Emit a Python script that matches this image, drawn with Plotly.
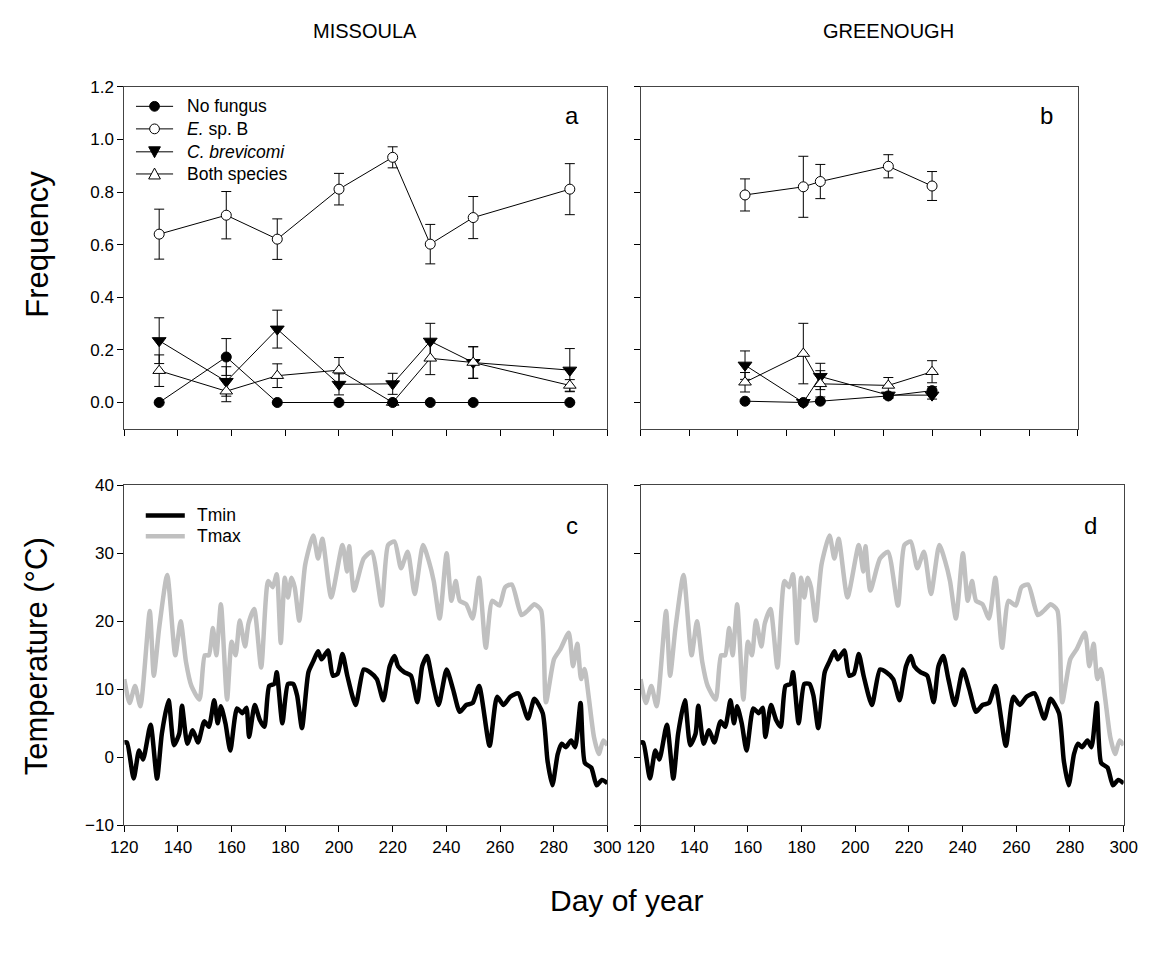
import plotly.graph_objects as go

# ---------------- data ----------------
# Missoula (panel a)
mis_days = [133, 158, 177, 200, 220, 234, 250, 286]
mis_nofungus = [0.0, 0.173, 0.0, 0.0, 0.0, 0.0, 0.0, 0.0]
mis_nofungus_err = [0.0, 0.07, 0.0, 0.0, 0.0, 0.0, 0.0, 0.0]
mis_esp = [0.640, 0.712, 0.621, 0.811, 0.932, 0.602, 0.703, 0.811]
mis_esp_err = [0.095, 0.090, 0.077, 0.060, 0.040, 0.075, 0.080, 0.097]
mis_cbrev = [0.235, 0.080, 0.279, 0.069, 0.071, 0.233, 0.152, 0.123]
mis_cbrev_err = [0.087, 0.056, 0.072, 0.040, 0.040, 0.068, 0.060, 0.082]
mis_both = [0.121, 0.043, 0.102, 0.123, 0.0, 0.168, 0.152, 0.065]
mis_both_err = [0.060, 0.040, 0.045, 0.048, 0.0, 0.062, 0.060, 0.022]

# Greenough (panel b)
gre_days = [163, 187, 194, 222, 240]
gre_nofungus = [0.005, 0.0, 0.005, 0.025, 0.045]
gre_nofungus_err = [0.0, 0.0, 0.0, 0.01, 0.015]
gre_esp = [0.789, 0.820, 0.840, 0.898, 0.823]
gre_esp_err = [0.061, 0.116, 0.065, 0.044, 0.055]
gre_cbrev = [0.142, 0.0, 0.099, 0.028, 0.028]
gre_cbrev_err = [0.054, 0.0, 0.050, 0.010, 0.015]
gre_both = [0.077, 0.186, 0.071, 0.065, 0.117]
gre_both_err = [0.037, 0.115, 0.050, 0.030, 0.042]

# Temperature (panels c and d) - readings at turning points
tmax_days = [120, 122, 124, 126, 129.5, 131, 133, 136, 139, 141, 143, 145, 148,
             150, 151.5, 153, 154.3, 156, 158.3, 160, 161.5, 163, 165, 166.3, 168.4,
             171, 173.6, 175.3, 176.8, 178.3, 179.8, 181, 182.3, 183.5, 185.2, 187.4,
             190.4, 192.2, 193.8, 197.1, 201.3, 203, 203.8, 205.6, 209.2, 212.2,
             215.9, 218.3, 220.7, 223.1, 225.6, 228.2, 231.3, 233.5, 235.3, 237.5,
             240.1, 241.9, 243.5, 245, 247.4, 249.8, 252.2, 254.7, 257.1, 259.8,
             261.9, 264.4, 268, 270.4, 272.8, 275.3, 277.1, 280.1, 282.5, 285.6,
             287.2, 288.8, 290.2, 291.5, 293, 295, 296.8, 298.5, 300]
tmax_vals = [11.5, 8.0, 10.5, 7.5, 21.5, 12.0, 19.0, 26.8, 15.0, 20.0, 14.0, 10.5, 8.5,
             15.0, 15.0, 19.0, 15.0, 22.5, 8.5, 17.0, 15.0, 20.1, 16.3, 19.7, 21.8,
             13.2, 25.9, 25.0, 26.9, 16.8, 26.4, 23.5, 26.4, 25.0, 20.1, 28.3,
             32.6, 29.2, 32.1, 23.5, 31.2, 27.3, 31.0, 24.5, 29.2, 30.2,
             22.3, 31.2, 31.7, 27.8, 30.2, 24.0, 31.2, 28.8, 25.9, 20.4,
             30.0, 23.0, 25.9, 23.0, 22.5, 20.4, 26.4, 16.1, 23.0, 22.3,
             25.0, 25.4, 20.9, 21.6, 22.5, 21.6, 8.1, 14.4, 15.9, 18.3,
             13.4, 16.7, 11.5, 13.0, 9.0, 3.0, 0.5, 2.5, 1.8]

tmin_days = [120, 121, 123.5, 125.5, 127, 129.8, 132.2, 134, 136.5, 138.5, 140.5,
             141.5, 143.5, 145.5, 147.5, 149.8, 151.5, 153.5, 154.8, 156, 157.7,
             159.5, 162, 164, 165.5, 166.5, 168.6, 170.5, 172.2, 174, 175.9, 176.8,
             178.9, 181, 182.9, 184.4, 186.2, 188.6, 190.4, 192.2, 193.5, 195.9,
             197.7, 199.5, 201.3, 203.1, 206.2, 209.2, 211.6, 214.1, 216.5, 218.9,
             220.7, 222, 224.4, 226.8, 229.2, 231, 232.8, 234.7, 237.1, 240.1,
             242.5, 245, 247.4, 249.8, 252.2, 256.1, 258.9, 261.3, 263.8, 266.8,
             270.4, 272.8, 275.9, 277.7, 279.5, 281.5, 283, 284.5, 286.5, 288, 290,
             291.6, 294, 296, 298, 300]
tmin_vals = [2.2, 2.2, -3.1, 1.0, -0.3, 4.8, -3.1, 3.5, 8.4, 1.8, 3.5,
             7.6, 2.0, 4.0, 2.2, 5.3, 4.5, 8.4, 5.0, 7.5, 5.0,
             1.0, 7.2, 6.5, 7.3, 3.0, 7.7, 5.5, 4.5, 10.5, 10.8, 12.5,
             5.0, 10.8, 10.8, 9.1, 4.3, 12.5, 14.1, 15.6, 14.4, 15.7,
             12.0, 12.3, 15.2, 12.0, 7.7, 12.9, 12.5, 11.5, 8.4, 13.4,
             14.9, 13.4, 12.5, 12.0, 8.1, 13.4, 14.9, 11.5, 7.7, 12.9,
             10.0, 6.7, 7.7, 8.0, 10.5, 1.7, 8.9, 7.7, 8.9, 9.4,
             5.7, 8.6, 6.5, -0.5, -4.1, 0.5, 2.0, 1.5, 2.5, 1.5, 8.0,
             -0.8, -1.5, -4.1, -3.3, -3.8]

x_ticks = [120, 140, 160, 180, 200, 220, 240, 260, 280, 300]
freq_ticks = [0, 0.2, 0.4, 0.6, 0.8, 1.0, 1.2]
freq_ticktext = ["0.0", "0.2", "0.4", "0.6", "0.8", "1.0", "1.2"]
temp_ticks = [-10, 0, 10, 20, 30, 40]

freq_legend = ["No fungus", "<i>E.</i> sp. B", "<i>C. brevicomi</i>", "Both species"]
temp_legend = ["Tmin", "Tmax"]

# ---------------- layout helpers ----------------
W, H = 1165, 959
def px(x):
    return x / W
def py(y):
    return 1 - y / H
def xd(a, b):
    return [px(a), px(b)]
def yd(top, bottom):
    return [py(bottom), py(top)]

FONT = "Liberation Sans, Arial, sans-serif"
fig = go.Figure()

def eb(arr):
    return dict(type="data", array=arr, visible=True, color="black", thickness=1, width=5)

def freq_traces(days, nf, nfe, es, ese, cb, cbe, bo, boe, xa, ya):
    common = dict(mode="lines+markers", xaxis=xa, yaxis=ya, showlegend=False,
                  line=dict(color="black", width=1))
    fig.add_trace(go.Scatter(x=days, y=cb, error_y=eb(cbe), name="C. brevicomi",
                             marker=dict(symbol="triangle-down", size=12, color="black",
                                         line=dict(color="black", width=1)), **common))
    fig.add_trace(go.Scatter(x=days, y=bo, error_y=eb(boe), name="Both species",
                             marker=dict(symbol="triangle-up", size=11, color="white",
                                         line=dict(color="black", width=1)), **common))
    fig.add_trace(go.Scatter(x=days, y=nf, error_y=eb(nfe), name="No fungus",
                             marker=dict(symbol="circle", size=10, color="black",
                                         line=dict(color="black", width=1)), **common))
    fig.add_trace(go.Scatter(x=days, y=es, error_y=eb(ese), name="E. sp. B",
                             marker=dict(symbol="circle", size=10, color="white",
                                         line=dict(color="black", width=1)), **common))

freq_traces(mis_days, mis_nofungus, mis_nofungus_err, mis_esp, mis_esp_err,
            mis_cbrev, mis_cbrev_err, mis_both, mis_both_err, "x", "y")
freq_traces(gre_days, gre_nofungus, gre_nofungus_err, gre_esp, gre_esp_err,
            gre_cbrev, gre_cbrev_err, gre_both, gre_both_err, "x2", "y2")

for xa, ya in [("x3", "y3"), ("x4", "y4")]:
    fig.add_trace(go.Scatter(x=tmax_days, y=tmax_vals, mode="lines", name="Tmax",
                             line=dict(color="#c0c0c0", width=4.5, shape="spline", smoothing=0.6),
                             xaxis=xa, yaxis=ya, showlegend=False))
    fig.add_trace(go.Scatter(x=tmin_days, y=tmin_vals, mode="lines", name="Tmin",
                             line=dict(color="black", width=4.5, shape="spline", smoothing=0.6),
                             xaxis=xa, yaxis=ya, showlegend=False))

axis_common = dict(showgrid=False, zeroline=False, ticks="outside", ticklen=6,
                   tickcolor="black", linecolor="#444", linewidth=1, mirror=True,
                   showline=True, tickfont=dict(family=FONT, size=17, color="black"))

xa_dom = xd(113, 608)
xb_dom = xd(642, 1090)
xd_dom = xd(642, 1137)
y_top = yd(79.4, 428.3)
y_bot = yd(485.7, 833)

fig.update_layout(
    width=W, height=H, margin=dict(l=0, r=0, t=0, b=0),
    plot_bgcolor="white", paper_bgcolor="white", showlegend=False,
    font=dict(family=FONT, color="black"),
    xaxis=dict(domain=xa_dom, range=[120, 300], tickvals=x_ticks, showticklabels=False,
               anchor="y", **axis_common),
    yaxis=dict(domain=y_top, range=[-0.1, 1.2], tickvals=freq_ticks,
               ticktext=freq_ticktext, anchor="x", **axis_common),
    xaxis2=dict(domain=xb_dom, range=[120, 300], tickvals=x_ticks, showticklabels=False,
                anchor="y2", **axis_common),
    yaxis2=dict(domain=y_top, range=[-0.1, 1.2], tickvals=freq_ticks,
                showticklabels=False, anchor="x2", **axis_common),
    xaxis3=dict(domain=xa_dom, range=[120, 300], tickvals=x_ticks, anchor="y3", **axis_common),
    yaxis3=dict(domain=y_bot, range=[-10, 40], tickvals=temp_ticks, anchor="x3", **axis_common),
    xaxis4=dict(domain=xd_dom, range=[120, 300], tickvals=x_ticks, anchor="y4", **axis_common),
    yaxis4=dict(domain=y_bot, range=[-10, 40], tickvals=temp_ticks,
                showticklabels=False, anchor="x4", **axis_common),
)

# ---------------- legends (drawn as keys + text) ----------------
shapes = []
annotations = []

def key_line(x0, x1, y, color, width):
    shapes.append(dict(type="line", xref="paper", yref="paper", x0=px(x0), x1=px(x1),
                       y0=py(y), y1=py(y), line=dict(color=color, width=width)))

def key_circle(cx, cy, r, fill):
    shapes.append(dict(type="circle", xref="paper", yref="paper", x0=px(cx - r), x1=px(cx + r),
                       y0=py(cy + r), y1=py(cy - r), fillcolor=fill,
                       line=dict(color="black", width=1)))

def key_tri(cx, cy, s, down, fill):
    if down:
        pts = [(cx - s, cy - s * 0.85), (cx + s, cy - s * 0.85), (cx, cy + s)]
    else:
        pts = [(cx - s, cy + s * 0.85), (cx + s, cy + s * 0.85), (cx, cy - s)]
    path = "M " + " L ".join(f"{px(a):.5f},{py(b):.5f}" for a, b in pts) + " Z"
    shapes.append(dict(type="path", xref="paper", yref="paper", path=path, fillcolor=fill,
                       line=dict(color="black", width=1)))

def label(text, x, y, size, xanchor="left", angle=0):
    annotations.append(dict(text=text, x=px(x), y=py(y), xref="paper", yref="paper",
                            showarrow=False, xanchor=xanchor, yanchor="middle",
                            textangle=angle,
                            font=dict(family=FONT, size=size, color="black")))

leg_rows = [99.3, 122.3, 145.7, 168.3]
for yv in leg_rows:
    key_line(125, 163, yv, "black", 1)
key_circle(144, leg_rows[0], 5, "black")
key_circle(144, leg_rows[1], 5, "white")
key_tri(144, leg_rows[2], 6, True, "black")
key_tri(144, leg_rows[3], 6, False, "white")
for txt, yv in zip(freq_legend, leg_rows):
    label(txt, 175, yv, 17.5)

temp_rows = [516.7, 538]
key_line(135, 175, temp_rows[0], "black", 4.5)
key_line(135, 175, temp_rows[1], "#c0c0c0", 4.5)
for txt, yv in zip(temp_legend, temp_rows):
    label(txt, 185, yv, 17.5)

# titles and panel letters
label("MISSOULA", 360, 22, 20, "center")
label("GREENOUGH", 896, 22, 20, "center")
label("a", 572, 109, 24, "center")
label("b", 1058, 109, 24, "center")
label("c", 572, 527, 24, "center")
label("d", 1103, 527, 24, "center")
label("Frequency", 24, 240, 31, "center", -90)
label("Temperature (°C)", 24, 660, 31, "center", -90)
label("Day of year", 628, 910, 30, "center")

fig.update_layout(shapes=shapes, annotations=annotations)
fig.write_html("out.html")
